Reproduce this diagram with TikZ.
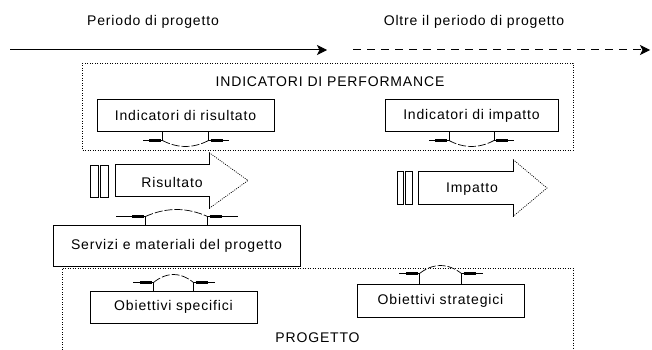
\documentclass[tikz,border=0pt]{standalone}
\usepackage{fontspec}
\setmainfont{Liberation Sans}
\newfontfamily\diagfont[LetterSpace=6]{Liberation Sans}
\usetikzlibrary{arrows.meta,calc}
\tikzset{
  >={Stealth[length=10pt,width=10pt,inset=2.5pt]},
  lab/.style={font=\diagfont\fontsize{14}{16}\selectfont,inner sep=0pt},
  ibox/.style={draw,line width=1pt,inner sep=0pt,lab},
  dotbox/.style={line width=0.9pt,dash pattern=on 0.9pt off 1.6pt},
  notch/.style={line width=0.9pt},
  notchbit/.style={line width=2.4pt},
  notchcurve/.style={line width=0.7pt,dash pattern=on 8pt off 2pt},
  bar/.style={draw,line width=0.9pt},
  bigbody/.style={line width=1pt},
  bighead/.style={line width=0.7pt,dash pattern=on 1pt off 1.2pt},
}

\begin{document}
\begin{tikzpicture}[x=1pt,y=-1pt]
  \useasboundingbox (0,0) rectangle (652,350);

  % time line
  \coordinate (t0) at (10,50);
  \coordinate (t1) at (327,50);
  \coordinate (t2) at (353,50);
  \coordinate (t3) at (650,50);
  \draw[->,line width=1pt] (t0) -- (t1);
  \draw[->,line width=1pt,dash pattern=on 8pt off 6pt] (t2) -- (t3);
  \node[lab] (per)   at (153,22) {Periodo di progetto};
  \node[lab] (oltre) at (474,22) {Oltre il periodo di progetto};

  % callout notch under/over a box: node, anchor, half gap, half width, depth, dip
  \newcommand{\notch}[6]{
    \draw[notch] ($(#1.#2)+(-#3,0)$) -- ++(0,#5) -- ++(#3-#4,0);
    \draw[notch] ($(#1.#2)+(#3,0)$) -- ++(0,#5) -- ++(#4-#3,0);
    \draw[notchbit] ($(#1.#2)+(-#3-2,#5)$) -- ++(-12,0);
    \draw[notchbit] ($(#1.#2)+(#3+2,#5)$) -- ++(12,0);
    \draw[notchcurve] ($(#1.#2)+(-#3,#5)$) parabola bend ($(#1.#2)+(0,#6)$)
      ($(#1.#2)+(#3,#5)$);}
  % block arrow: x start, x head, x tip, y mid, half body, half head
  \newcommand{\bigarr}[6]{
    \draw[bigbody] (#2,#4-#6) -- (#2,#4-#5) -- (#1,#4-#5) -- (#1,#4+#5)
      -- (#2,#4+#5) -- (#2,#4+#6);
    \draw[bighead] (#2,#4-#6) -- (#3,#4) -- (#2,#4+#6);}

  % indicatori
  \draw[dotbox] (82,63) rectangle (573,150);
  \node[lab] (ind) at (330,82) {INDICATORI DI PERFORMANCE};
  \node[ibox,minimum width=177pt,minimum height=31pt] (indris) at (185.5,115.5)
    {Indicatori di risultato};
  \node[ibox,minimum width=173pt,minimum height=31pt] (indimp) at (471.5,115.5)
    {Indicatori di impatto};
  \notch{indris}{south}{23}{43}{9}{15}
  \notch{indimp}{south}{22.5}{42.5}{9}{15}

  % risultato / impatto
  \draw[bar] (90,165) rectangle (98,197);
  \draw[bar] (100,165) rectangle (108,197);
  \bigarr{115}{209}{248}{180.5}{16}{28}
  \node[lab] (ris) at (172,182) {Risultato};
  \draw[bar] (397,171.5) rectangle (403,204.5);
  \draw[bar] (405,171.5) rectangle (412,204.5);
  \bigarr{418}{513}{547}{188}{16.5}{28.5}
  \node[lab] (imp) at (472,189) {Impatto};

  \node[ibox,minimum width=247pt,minimum height=41pt] (serv) at (176.5,245.5)
    {Servizi e materiali del progetto};
  \notch{serv}{north}{31}{61}{-8}{-15}

  % progetto
  \draw[dotbox] (62,355) -- (62,268) -- (573,268) -- (573,355);
  \node[ibox,minimum width=167pt,minimum height=32pt] (obspec) at (173.5,307)
    {Obiettivi specifici};
  \node[ibox,minimum width=167pt,minimum height=33pt] (obstrat) at (440.5,300.5)
    {Obiettivi strategici};
  \notch{obspec}{north}{20}{41}{-8}{-16}
  \notch{obstrat}{north}{21}{42}{-10}{-18}
  \node[lab] (prog) at (317.5,338) {PROGETTO};
\end{tikzpicture}
\end{document}
